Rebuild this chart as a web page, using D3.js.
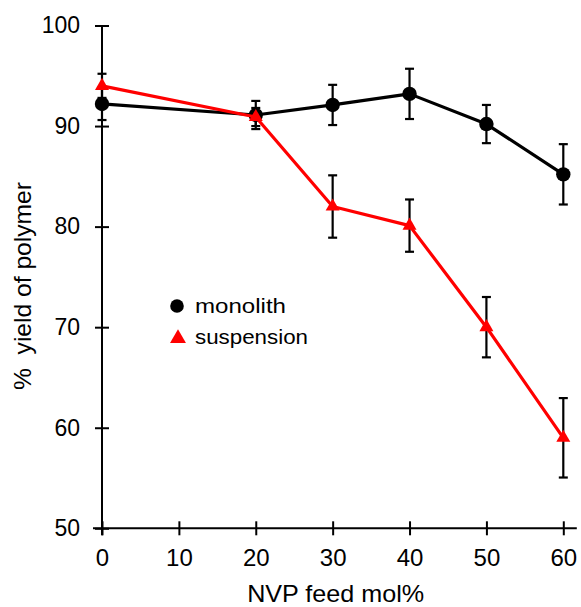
<!DOCTYPE html>
<html>
<head>
<meta charset="utf-8">
<script src="https://cdn.jsdelivr.net/npm/d3@7"></script>
<style>
  html, body { margin: 0; padding: 0; background: #fff; }
  svg { display: block; }
  text { font-family: "Liberation Sans", Arial, sans-serif; fill: #000; }
</style>
</head>
<body>
<svg id="chart" width="581" height="607"></svg>
<script>
// ---- data ----
const feed = [0, 20, 30, 40, 50, 60];
const monolith = [92.2, 91.1, 92.1, 93.2, 90.2, 85.2];
const monolithErr = [1.6, 1.4, 2.0, 2.5, 1.9, 3.0];
const suspension = [94.0, 90.9, 82.0, 80.1, 70.0, 59.0];
const suspensionErr = [1.2, 0.9, 3.1, 2.6, 3.0, 3.95];
const xTicks = [0, 10, 20, 30, 40, 50, 60];
const yTicks = [50, 60, 70, 80, 90, 100];
const seriesNames = ["monolith", "suspension"];

const svg = d3.select("#chart");
const x = d3.scaleLinear().domain([0, 60]).range([102, 563.3]);
const y = d3.scaleLinear().domain([50, 100]).range([528.3, 25.5]);

// ---- axes ----
const yAxis = d3.axisLeft(y).tickValues(yTicks).tickSize(7).tickSizeOuter(0).tickPadding(15);
const gy = svg.append("g").attr("transform", `translate(${x(0)},0)`).call(yAxis);
gy.select(".domain").remove();
gy.selectAll(".tick line").attr("x1", 7).attr("stroke", "#000").attr("stroke-width", 2);
gy.selectAll(".tick text").attr("font-size", 23).attr("font-family", "Liberation Sans, Arial, sans-serif");
gy.append("line").attr("x1", 0).attr("x2", 0).attr("y1", y(100)).attr("y2", y(50) + 7)
  .attr("stroke", "#000").attr("stroke-width", 2);

const xAxis = d3.axisBottom(x).tickValues(xTicks).tickSize(7).tickSizeOuter(0).tickPadding(14);
const gx = svg.append("g").attr("transform", `translate(0,${y(50)})`).call(xAxis);
gx.select(".domain").remove();
gx.selectAll(".tick line").attr("y1", -7).attr("stroke", "#000").attr("stroke-width", 2);
gx.selectAll(".tick text").attr("font-size", 24).attr("font-family", "Liberation Sans, Arial, sans-serif");
gx.append("line").attr("x1", x(0) - 9).attr("x2", x(60) + 13.5).attr("y1", 0).attr("y2", 0)
  .attr("stroke", "#000").attr("stroke-width", 2);

// ---- axis titles ----
svg.append("text").attr("x", (x(0) + x(60)) / 2 + 3).attr("y", 602)
  .attr("text-anchor", "middle").attr("font-size", 24)
  .attr("textLength", 177).attr("lengthAdjust", "spacingAndGlyphs")
  .text("NVP feed mol%");
svg.append("text")
  .attr("transform", "translate(31,286) rotate(-90)")
  .attr("text-anchor", "middle").attr("font-size", 24)
  .style("white-space", "pre")
  .attr("textLength", 208).attr("lengthAdjust", "spacingAndGlyphs")
  .text("%  yield of polymer");

// ---- error bars ----
function errorBars(vals, errs) {
  const g = svg.append("g").attr("stroke", "#000").attr("stroke-width", 2.2).attr("fill", "none");
  feed.forEach((f, i) => {
    const cx = x(f), top = y(vals[i] + errs[i]), bot = y(vals[i] - errs[i]);
    g.append("line").attr("x1", cx).attr("x2", cx).attr("y1", top).attr("y2", bot);
    g.append("line").attr("x1", cx - 4.5).attr("x2", cx + 4.5).attr("y1", top).attr("y2", top);
    g.append("line").attr("x1", cx - 4.5).attr("x2", cx + 4.5).attr("y1", bot).attr("y2", bot);
  });
}
errorBars(monolith, monolithErr);
errorBars(suspension, suspensionErr);

// ---- lines & markers ----
const line = (vals) => d3.line().x((d, i) => x(feed[i])).y(d => y(d))(vals);

svg.append("path").attr("d", line(monolith)).attr("fill", "none")
  .attr("stroke", "#000").attr("stroke-width", 3.2).attr("stroke-linejoin", "round");
svg.append("g").selectAll("circle").data(monolith).join("circle")
  .attr("cx", (d, i) => x(feed[i])).attr("cy", d => y(d)).attr("r", 7.2).attr("fill", "#000");

svg.append("path").attr("d", line(suspension)).attr("fill", "none")
  .attr("stroke", "#ff0000").attr("stroke-width", 3.2).attr("stroke-linejoin", "round");
const tri = d3.symbol().type(d3.symbolTriangle).size(85);
svg.append("g").selectAll("path").data(suspension).join("path")
  .attr("d", tri).attr("transform", (d, i) => `translate(${x(feed[i])},${y(d)})`)
  .attr("fill", "#ff0000");

// ---- legend ----
const leg = svg.append("g");
leg.append("circle").attr("cx", 177).attr("cy", 306).attr("r", 6.8).attr("fill", "#000");
leg.append("path").attr("d", d3.symbol().type(d3.symbolTriangle).size(110)())
  .attr("transform", "translate(178,338.5)").attr("fill", "#ff0000");
leg.append("text").attr("x", 195).attr("y", 313).attr("font-size", 21)
  .attr("font-family", "Open Sans, sans-serif")
  .attr("textLength", 91).attr("lengthAdjust", "spacingAndGlyphs").text(seriesNames[0]);
leg.append("text").attr("x", 195).attr("y", 344).attr("font-size", 21)
  .attr("font-family", "Open Sans, sans-serif")
  .attr("textLength", 113).attr("lengthAdjust", "spacingAndGlyphs").text(seriesNames[1]);
</script>
</body>
</html>
